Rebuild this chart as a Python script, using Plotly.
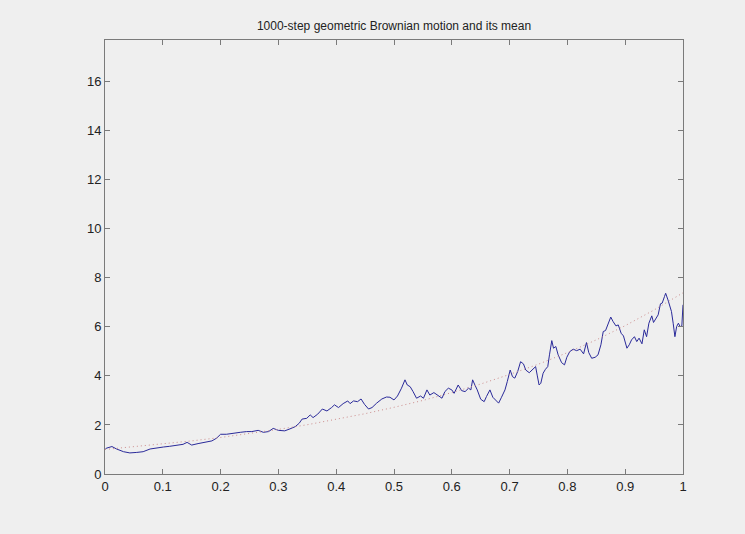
import plotly.graph_objects as go

# Geometric Brownian motion path
path_t = [0, 0.002, 0.012, 0.02, 0.032, 0.043, 0.055, 0.066, 0.078, 0.089, 0.101, 0.112, 0.124, 0.135, 0.142,
          0.15, 0.161, 0.173, 0.185, 0.193, 0.2, 0.21, 0.222, 0.234, 0.245, 0.254, 0.265, 0.274, 0.283, 0.291,
          0.30, 0.311, 0.32, 0.329, 0.336, 0.341, 0.349, 0.355, 0.36, 0.368, 0.376, 0.384, 0.392, 0.397, 0.404,
          0.412, 0.42, 0.424, 0.43, 0.437, 0.443, 0.449, 0.456, 0.462, 0.47, 0.479, 0.487, 0.493, 0.5, 0.506,
          0.513, 0.519, 0.523, 0.528, 0.533, 0.539, 0.546, 0.551, 0.557, 0.562, 0.569, 0.577, 0.583, 0.588,
          0.594, 0.60, 0.604, 0.611, 0.617, 0.623, 0.629, 0.633, 0.636, 0.64, 0.644, 0.65, 0.656, 0.66, 0.666,
          0.671, 0.676, 0.681, 0.686, 0.692, 0.696, 0.701, 0.705, 0.709, 0.714, 0.719, 0.724, 0.728, 0.734,
          0.74, 0.745, 0.748, 0.751, 0.754, 0.758, 0.762, 0.766, 0.769, 0.773, 0.776, 0.78, 0.784, 0.79, 0.795,
          0.799, 0.804, 0.81, 0.816, 0.822, 0.828, 0.833, 0.837, 0.842, 0.848, 0.853, 0.858, 0.862, 0.866,
          0.871, 0.875, 0.879, 0.884, 0.888, 0.893, 0.897, 0.903, 0.907, 0.911, 0.916, 0.92, 0.924, 0.929,
          0.933, 0.937, 0.941, 0.946, 0.949, 0.953, 0.957, 0.961, 0.964, 0.968, 0.97, 0.974, 0.977, 0.98,
          0.983, 0.986, 0.989, 0.992, 0.995, 0.998, 1.0]
path_v = [1.0, 1.05, 1.12, 1.02, 0.91, 0.86, 0.88, 0.91, 1.02, 1.07, 1.10, 1.13, 1.16, 1.21, 1.29,
          1.18, 1.24, 1.29, 1.35, 1.46, 1.62, 1.62, 1.67, 1.70, 1.73, 1.73, 1.78, 1.70, 1.73, 1.86,
          1.78, 1.76, 1.84, 1.93, 2.07, 2.24, 2.27, 2.41, 2.30, 2.44, 2.65, 2.57, 2.71, 2.82, 2.71,
          2.87, 2.98, 2.87, 2.98, 2.95, 3.06, 2.84, 2.65, 2.71, 2.89, 3.06, 3.14, 3.13, 3.02, 3.18,
          3.50, 3.84, 3.63, 3.56, 3.36, 3.09, 3.18, 3.09, 3.43, 3.22, 3.32, 3.18, 3.09, 3.36,
          3.50, 3.43, 3.29, 3.63, 3.40, 3.36, 3.50, 3.43, 3.84, 3.63, 3.43, 3.05, 2.95, 3.16, 3.43,
          3.13, 3.02, 2.89, 3.13, 3.43, 3.77, 4.24, 3.97, 3.91, 4.18, 4.58, 4.49, 4.24, 4.13,
          4.27, 4.38, 4.0, 3.63, 3.70, 4.11, 4.27, 4.38, 4.86, 5.44, 5.13, 5.20, 4.86, 4.54, 4.45,
          4.76, 4.99, 5.09, 5.03, 5.09, 4.90, 5.36, 4.95, 4.72, 4.76, 4.86, 5.27, 5.81, 5.85,
          6.15, 6.40, 6.22, 6.04, 6.08, 5.74, 5.63, 5.13, 5.27, 5.47, 5.60, 5.40, 5.54, 5.31,
          5.88, 5.60, 6.15, 6.45, 6.18, 6.36, 6.49, 6.94, 6.97, 7.24, 7.37, 7.10, 6.90, 6.63,
          6.15, 5.60, 6.01, 6.15, 6.01, 6.04, 6.90]

# Mean curve (dotted)
mean_t = [0, 0.05, 0.1, 0.15, 0.2, 0.25, 0.3, 0.35, 0.4, 0.45, 0.5, 0.55, 0.6, 0.65, 0.7, 0.75,
          0.8, 0.85, 0.9, 0.95, 1.0]
mean_v = [1.00, 1.11, 1.22, 1.35, 1.49, 1.65, 1.82, 2.01, 2.23, 2.46, 2.72, 3.00, 3.32, 3.67, 4.06,
          4.48, 4.95, 5.47, 6.05, 6.69, 7.39]

x_ticks = [0, 0.1, 0.2, 0.3, 0.4, 0.5, 0.6, 0.7, 0.8, 0.9, 1]
x_labels = ["0", "0.1", "0.2", "0.3", "0.4", "0.5", "0.6", "0.7", "0.8", "0.9", "1"]
y_ticks = [0, 2, 4, 6, 8, 10, 12, 14, 16]

title_text = "1000-step geometric Brownian motion and its mean"

fig = go.Figure()
fig.add_trace(go.Scatter(x=path_t, y=path_v, mode="lines",
                         line=dict(color="#2a2a9a", width=1), showlegend=False))
fig.add_trace(go.Scatter(x=mean_t, y=mean_v, mode="lines",
                         line=dict(color="#cc8c8c", width=1, dash="1px,3px"), showlegend=False))

axis_common = dict(showline=True, linecolor="#7a7a7a", linewidth=1, mirror="ticks",
                   ticks="inside", ticklen=5, tickcolor="#7a7a7a", showgrid=False, zeroline=False,
                   tickfont=dict(family="Liberation Sans, Arial, sans-serif", size=13, color="#222222"))

fig.update_layout(
    width=745, height=534,
    paper_bgcolor="#efefef", plot_bgcolor="#efefef",
    margin=dict(l=105, r=62, t=40, b=60),
    title=dict(text=title_text, x=(105 + 683) / 2 / 745, xanchor="center",
               y=1 - 26 / 534, yanchor="middle", yref="container",
               font=dict(family="Liberation Sans, Arial, sans-serif", size=12, color="#222222")),
    xaxis=dict(range=[0, 1], tickvals=x_ticks, ticktext=x_labels, **axis_common),
    yaxis=dict(range=[0, 17.7], tickvals=y_ticks, **axis_common),
)

fig.write_html("out.html")
